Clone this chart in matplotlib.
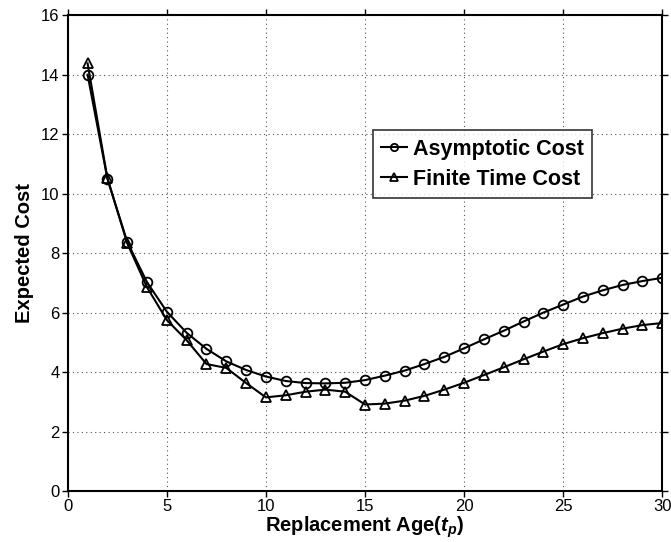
import matplotlib
matplotlib.use("Agg")
import matplotlib.pyplot as plt

plt.rcParams['font.family'] = ['Liberation Sans', 'DejaVu Sans']
plt.rcParams['mathtext.fontset'] = 'custom'
plt.rcParams['mathtext.it'] = 'Liberation Sans:italic:bold'
plt.rcParams['mathtext.rm'] = 'Liberation Sans:bold'

ages = list(range(1, 31))
asymptotic = [14.0, 10.5, 8.38, 7.02, 6.03, 5.32, 4.78, 4.36, 4.07, 3.85,
              3.70, 3.63, 3.62, 3.64, 3.73, 3.88, 4.05, 4.27, 4.51, 4.80,
              5.10, 5.39, 5.70, 6.00, 6.27, 6.54, 6.75, 6.93, 7.06, 7.17]
finite = [14.38, 10.52, 8.33, 6.85, 5.75, 5.07, 4.27, 4.14, 3.63, 3.15,
          3.22, 3.34, 3.41, 3.34, 2.91, 2.94, 3.04, 3.20, 3.41, 3.64,
          3.90, 4.16, 4.43, 4.69, 4.94, 5.14, 5.31, 5.46, 5.58, 5.65]

fig = plt.figure(figsize=(6.71, 5.42), dpi=100)
ax = fig.add_axes([0.101, 0.094, 0.886, 0.878])

ax.plot(ages, asymptotic, color='black', lw=1.5, marker='o', ms=7,
        mfc='none', mew=1.3, label='Asymptotic Cost')
ax.plot(ages, finite, color='black', lw=1.5, marker='^', ms=7,
        mfc='none', mew=1.3, label='Finite Time Cost')

ax.set_xlim(0, 30)
ax.set_ylim(0, 16)
ax.set_xticks(range(0, 31, 5))
ax.set_yticks(range(0, 17, 2))
ax.grid(True, linestyle=(0, (1, 3)), color='#555555', lw=0.8)

for s in ax.spines.values():
    s.set_linewidth(1.5)
ax.tick_params(direction='out', length=4, width=1, labelsize=12,
               top=True, right=True, pad=2)

ax.set_xlabel('Replacement Age($t_p$)', fontsize=14.5,
              fontweight='bold', labelpad=0)
ax.set_ylabel('Expected Cost', fontsize=14.5, fontweight='bold', labelpad=5)

leg = ax.legend(loc='upper left', bbox_to_anchor=(0.513, 0.758),
                fontsize=15.5, handlelength=1.2, frameon=True, fancybox=False,
                edgecolor='black', borderpad=0.4, labelspacing=0.4,
                handletextpad=0.25, borderaxespad=0, markerscale=0.75)
leg.get_frame().set_linewidth(1.2)
for t in leg.get_texts():
    t.set_fontweight('bold')

fig.savefig('out.png', dpi=100)
